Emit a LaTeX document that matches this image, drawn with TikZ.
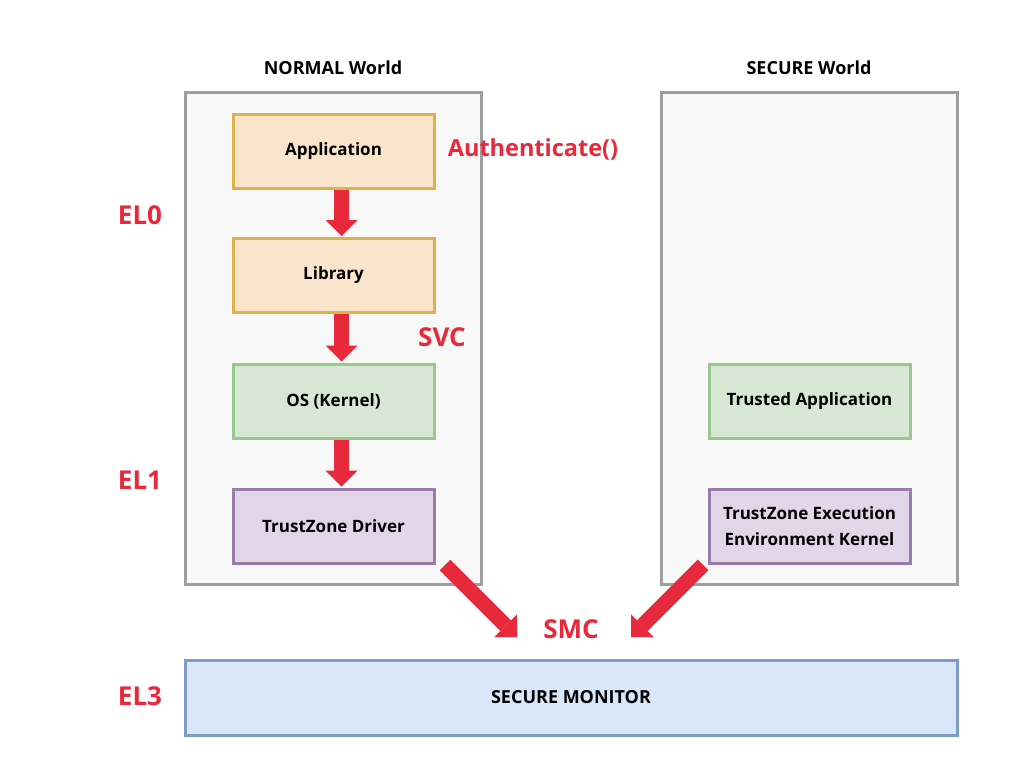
\documentclass[tikz,border=0pt]{standalone}
\usepackage{fontspec}
\setmainfont{Open Sans}
\usetikzlibrary{arrows.meta,calc}
\definecolor{redc}{HTML}{E8293B}
\definecolor{worldfill}{HTML}{F8F8F8}
\definecolor{worlddraw}{HTML}{9E9E9E}
\definecolor{orfill}{HTML}{FAE5CC}
\definecolor{ordraw}{HTML}{E0B04A}
\definecolor{grfill}{HTML}{D6E8D4}
\definecolor{grdraw}{HTML}{9CC78C}
\definecolor{pufill}{HTML}{E1D5E7}
\definecolor{pudraw}{HTML}{9A7BAA}
\definecolor{blfill}{HTML}{DAE6FA}
\definecolor{bldraw}{HTML}{7E9CC8}
\tikzset{
  world/.style={draw=worlddraw, fill=worldfill, line width=3pt, minimum width=296pt, minimum height=492pt, inner sep=0pt},
  boxbase/.style={line width=3pt, minimum width=201pt, minimum height=74pt, inner sep=0pt, align=center,
     font=\fontsize{17}{26}\selectfont\bfseries},
  orbox/.style={boxbase, draw=ordraw, fill=orfill},
  grbox/.style={boxbase, draw=grdraw, fill=grfill},
  pubox/.style={boxbase, draw=pudraw, fill=pufill},
  title/.style={font=\fontsize{18}{21}\selectfont\bfseries},
  redlab/.style={text=redc, font=\fontsize{26}{30}\selectfont\bfseries},
  bigarrow/.style={draw=redc, line width=15pt, -{Triangle[width=32pt,length=16pt,line width=0pt]}},
}
\begin{document}
\begin{tikzpicture}[x=1pt,y=-1pt]
\useasboundingbox (0,0) rectangle (1024,768);
\fill[white] (0,0) rectangle (1024,768);
\node[world] (nw) at (333,338) {};
\node[world] (sw) at (809,338) {};
\node[title] (nwt) at (333,68) {NORMAL World};
\node[title] (swt) at (809,68) {SECURE World};
\node[orbox] (app) at (333.5,151) {Application};
\node[orbox] (lib) at (333.5,275.5) {Library};
\node[grbox] (os) at (333.5,401) {OS (Kernel)};
\node[pubox] (drv) at (333.5,526) {TrustZone Driver};
\node[grbox] (ta) at (809.5,401) {Trusted Application};
\node[pubox] (tee) at (809.5,526) {TrustZone Execution\\Environment Kernel};
\node[line width=3pt, draw=bldraw, fill=blfill, minimum width=772pt, minimum height=75pt, inner sep=0pt,
      font=\fontsize{18}{21}\selectfont\bfseries] (mon) at (571,697.5) {SECURE MONITOR};
\node[redlab, font=\fontsize{23.5}{28}\selectfont\bfseries] (auth) at (533,149) {Authenticate()};
\node[redlab] (svc) at (442,337) {SVC};
\node[redlab] (smc) at (571,629) {SMC};
\node[redlab] (el0) at (140,215) {EL0};
\node[redlab] (el1) at (140,480) {EL1};
\node[redlab] (el3) at (140,696) {EL3};
\coordinate (ls) at (445,565);
\coordinate (lt) at (517,637);
\coordinate (rs) at (703,565);
\coordinate (rt) at (631,637);
\draw[bigarrow] ([xshift=8pt]app.south) -- ([xshift=8pt,yshift=1pt]lib.north);
\draw[bigarrow] ([xshift=8pt]lib.south) -- ([xshift=8pt,yshift=1pt]os.north);
\draw[bigarrow] ([xshift=8pt]os.south) -- ([xshift=8pt,yshift=1pt]drv.north);
\draw[bigarrow] (ls) -- (lt);
\draw[bigarrow] (rs) -- (rt);
\end{tikzpicture}
\end{document}
